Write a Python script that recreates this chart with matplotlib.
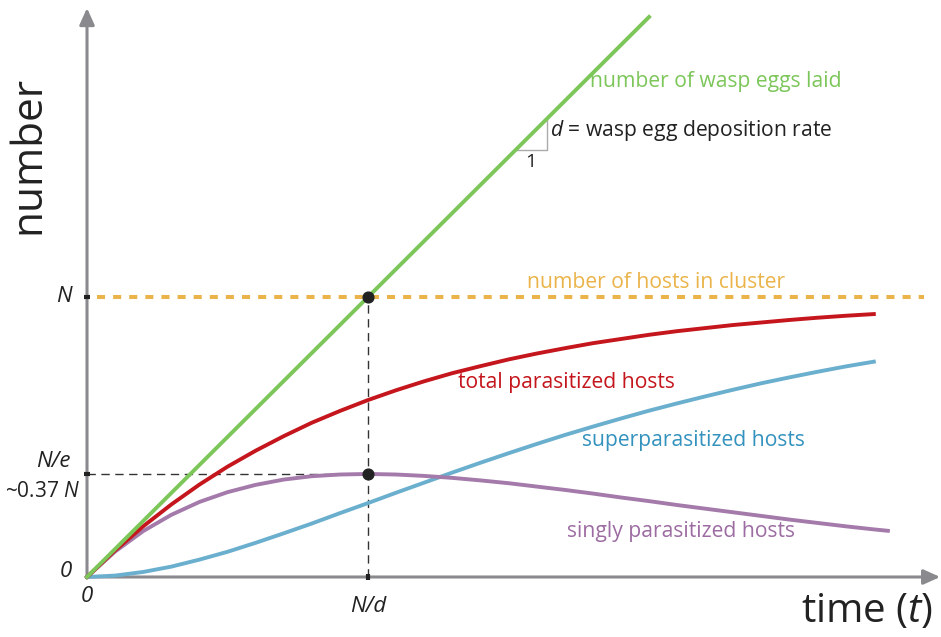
import matplotlib.pyplot as plt
import numpy as np

plt.rcParams['font.family'] = ['Open Sans', 'DejaVu Sans']
plt.rcParams['mathtext.fontset'] = 'custom'
plt.rcParams['mathtext.it'] = 'Open Sans:italic'
plt.rcParams['mathtext.rm'] = 'Open Sans'

# time in units of N/d, numbers in units of N
t_vals = [0, 0.1, 0.2, 0.3, 0.4, 0.5, 0.6, 0.7, 0.8, 0.9, 1.0, 1.1, 1.2, 1.3, 1.4,
          1.5, 1.6, 1.7, 1.8, 1.9, 2.0, 2.1, 2.2, 2.3, 2.4, 2.5, 2.6, 2.7, 2.8]
total_hosts = [0, 0.095, 0.181, 0.259, 0.330, 0.394, 0.451, 0.503, 0.551, 0.593, 0.632,
               0.667, 0.699, 0.728, 0.753, 0.777, 0.798, 0.817, 0.835, 0.850, 0.865,
               0.878, 0.889, 0.900, 0.909, 0.918, 0.926, 0.933, 0.939]
super_hosts = [0, 0.005, 0.018, 0.037, 0.062, 0.090, 0.122, 0.156, 0.191, 0.228, 0.264,
               0.301, 0.337, 0.373, 0.408, 0.442, 0.475, 0.507, 0.537, 0.566, 0.594,
               0.620, 0.645, 0.669, 0.692, 0.713, 0.733, 0.752, 0.769]
t_single = t_vals + [2.85]
single_hosts = [0, 0.091, 0.164, 0.222, 0.268, 0.303, 0.329, 0.348, 0.360, 0.366, 0.368,
                0.366, 0.361, 0.354, 0.345, 0.335, 0.323, 0.311, 0.298, 0.284, 0.271,
                0.257, 0.244, 0.231, 0.218, 0.205, 0.193, 0.181, 0.170, 0.165]
eggs_t = [0, 2.0]
eggs = [0, 2.0]
hosts_t = [0.035, 2.98]
hosts = [1.0, 1.0]
n_over_e = 0.368

green = '#7CC65A'
orange = '#EAB44A'
red = '#C4161C'
blue = '#6BAFCE'
purple = '#A47AAA'
grey = '#8A8A8E'

fig = plt.figure(figsize=(9.41, 6.37), dpi=100)
ax = fig.add_axes([0, 0, 1, 1])
ax.set_xlim(-0.3096, 3.039)
ax.set_ylim(-0.2143, 2.0607)
ax.axis('off')

# axes with arrows
ax.annotate('', xy=(3.036, 0), xytext=(0, 0),
            arrowprops=dict(arrowstyle='-|>,head_length=1.0,head_width=0.45', color=grey, lw=2.2,
                            shrinkA=0, shrinkB=0))
ax.annotate('', xy=(0, 2.032), xytext=(0, 0),
            arrowprops=dict(arrowstyle='-|>,head_length=1.0,head_width=0.45', color=grey, lw=2.2,
                            shrinkA=0, shrinkB=0))

# guide lines
ax.plot([0, 1], [n_over_e, n_over_e], color='#333333', lw=1, ls=(0, (6, 4)), zorder=2)
ax.plot([1, 1], [0, 1], color='#333333', lw=1, ls=(0, (6, 4)), zorder=2)

# curves
ax.plot(hosts_t, hosts, color=orange, lw=2.9, ls=(0, (2.0, 2.0)), dash_capstyle='butt', zorder=3)
ax.plot(t_vals, super_hosts, color=blue, lw=2.8, zorder=3)
ax.plot(t_single, single_hosts, color=purple, lw=2.8, zorder=3)
ax.plot(t_vals, total_hosts, color=red, lw=2.8, zorder=4)
ax.plot(eggs_t, eggs, color=green, lw=2.8, zorder=5)

# points
ax.scatter([1, 1], [1, n_over_e], s=60, color='#222222', zorder=6)

# tick marks
ax.plot([-0.012, 0.012], [1, 1], color='#222222', lw=3, solid_capstyle='butt', zorder=6)
ax.plot([-0.012, 0.012], [n_over_e, n_over_e], color='#222222', lw=3, solid_capstyle='butt', zorder=6)
ax.plot([1, 1], [-0.012, 0.012], color='#222222', lw=3, solid_capstyle='butt', zorder=6)

# slope triangle
ax.plot([1.525, 1.637, 1.637], [1.525, 1.525, 1.637], color='#aaaaaa', lw=1, zorder=4)
ax.text(1.58, 1.482, '1', fontsize=14, color='#222222', ha='center', va='center')

# labels
lab = 15.2
ax.text(1.79, 1.768, 'number of wasp eggs laid', fontsize=lab, color=green, va='center')
ax.text(1.648, 1.593, '$d$ = wasp egg deposition rate', fontsize=lab, color='#222222', va='center')
ax.text(1.566, 1.05, 'number of hosts in cluster', fontsize=lab, color=orange, va='center')
ax.text(1.32, 0.696, 'total parasitized hosts', fontsize=lab, color=red, va='center')
ax.text(1.762, 0.489, 'superparasitized hosts', fontsize=lab, color='#3392BE', va='center')
ax.text(1.708, 0.164, 'singly parasitized hosts', fontsize=lab, color='#9C6CA2', va='center')

tick_kw = dict(fontsize=16, color='#222222', style='italic')
ax.text(-0.053, 1.0, 'N', ha='right', va='center', **tick_kw)
ax.text(-0.06, 0.414, 'N/e', ha='right', va='center', **tick_kw)
ax.text(-0.025, 0.307, '~0.37 $N$', ha='right', va='center', fontsize=15, color='#222222')
ax.text(-0.053, 0.02, '0', ha='right', va='center', **tick_kw)
ax.text(0, -0.068, '0', ha='center', va='center', **tick_kw)
ax.text(1, -0.107, 'N/d', ha='center', va='center', **tick_kw)

ax.text(-0.21, 1.507, 'number', fontsize=30.5, rotation=90, ha='center', va='center', color='#222222')
ax.text(2.776, -0.125, 'time ($t$)', fontsize=29, ha='center', va='center', color='#222222')

fig.savefig('out.png', dpi=100)
